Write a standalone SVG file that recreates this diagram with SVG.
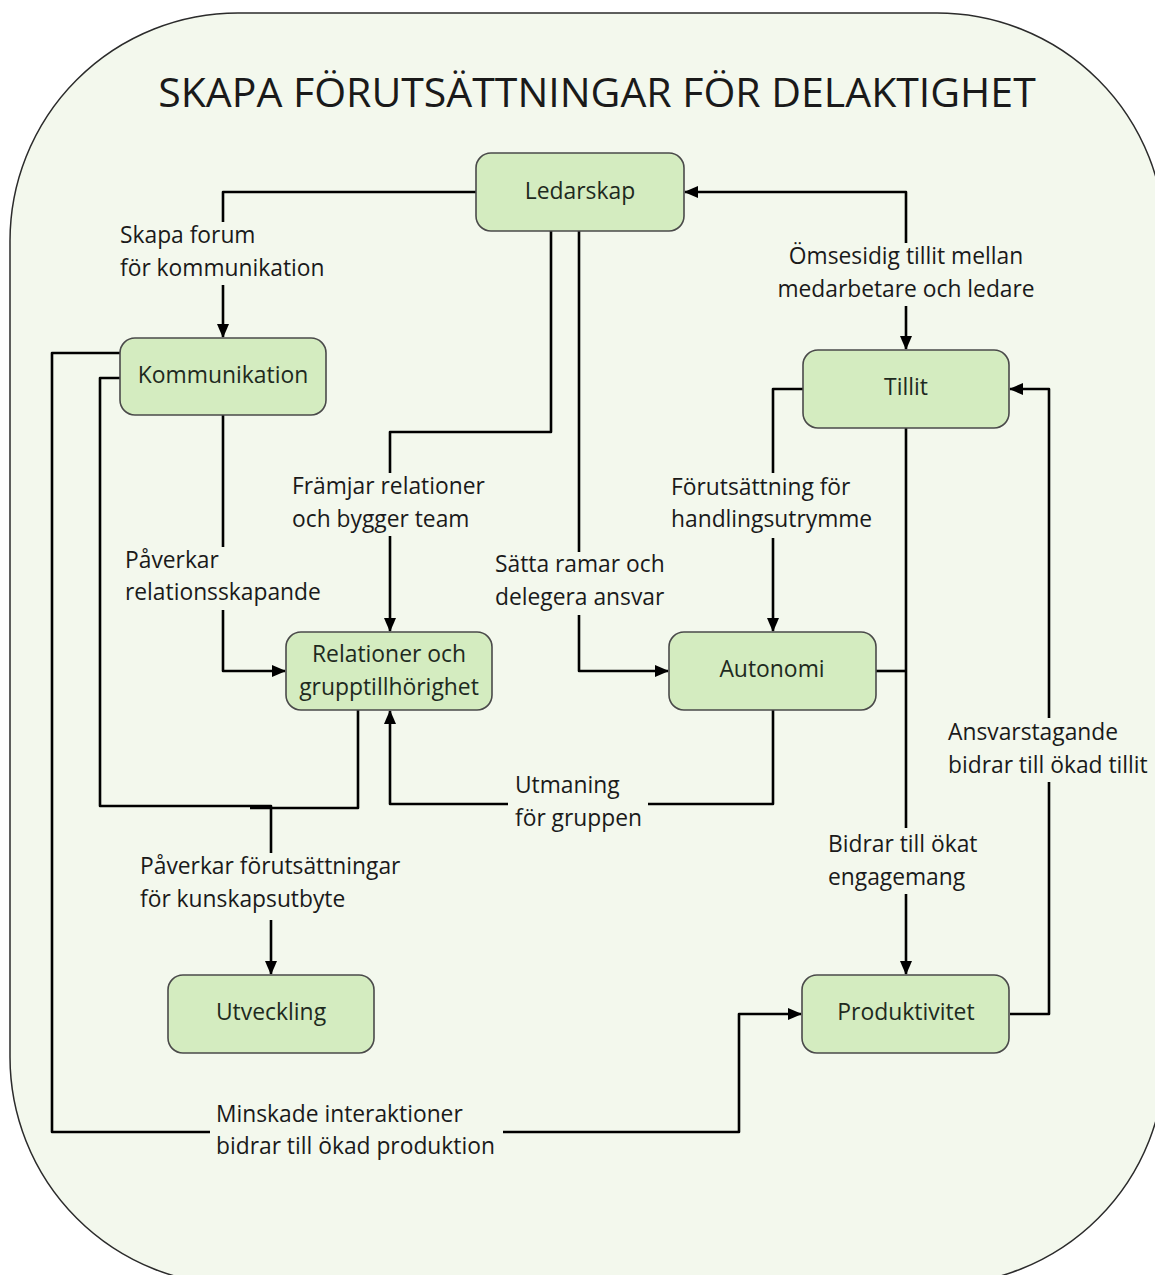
<svg xmlns="http://www.w3.org/2000/svg" width="1155" height="1275" viewBox="0 0 1155 1275">
<style>
.bg{fill:#f3f8ed;stroke:#2b2b2b;stroke-width:1.5}
.node rect{fill:#d4ecc0;stroke:#4a4a4a;stroke-width:1.6}
.node text{font-family:"Open Sans","Noto Sans",sans-serif;font-size:22.9px;fill:#1e2a1e;text-anchor:middle}
.lbl{font-family:"Open Sans","Noto Sans",sans-serif;font-size:22.8px;fill:#1a1a1a}
.title{font-family:"Open Sans","Noto Sans",sans-serif;font-size:41px;fill:#1a1a1a;text-anchor:middle}
.c{fill:none;stroke:#000;stroke-width:2.6;stroke-linejoin:round;stroke-linecap:butt}
.a{marker-end:url(#arr)}
</style>
<defs>
<marker id="arr" markerUnits="userSpaceOnUse" markerWidth="14" markerHeight="12" refX="13" refY="6" orient="auto">
<path d="M0,0 L14,6 L0,12 Z" fill="#000"/>
</marker>
</defs>
<rect x="0" y="0" width="1155" height="1275" fill="#ffffff"/>
<rect class="bg" x="10" y="13" width="1155" height="1272" rx="228" ry="228"/>
<text class="title" x="597" y="107">SKAPA FÖRUTSÄTTNINGAR FÖR DELAKTIGHET</text>

<g id="connectors">
<!-- Ledarskap -> Kommunikation -->
<path class="c" d="M476,192 H223 V222"/>
<path class="c a" d="M223,285 V337"/>
<!-- Ledarskap -> Relationer -->
<path class="c" d="M551,231 V432 H390 V473"/>
<path class="c a" d="M390,536 V631"/>
<!-- Ledarskap -> Autonomi -->
<path class="c" d="M579,231 V552"/>
<path class="c a" d="M579,615 V671 H668"/>
<!-- Tillit <-> Ledarskap -->
<path class="c a" d="M906,243 V192 H685"/>
<path class="c a" d="M906,306 V349"/>
<!-- Tillit -> Autonomi -->
<path class="c" d="M803,389 H773 V473"/>
<path class="c a" d="M773,538 V631"/>
<!-- Tillit -> Produktivitet, Autonomi joins -->
<path class="c" d="M906,428 V828"/>
<path class="c" d="M876,671 H906"/>
<path class="c a" d="M906,894 V974"/>
<!-- Produktivitet -> Tillit -->
<path class="c" d="M1010,1014 H1049 V782"/>
<path class="c a" d="M1049,718 V389 H1010"/>
<!-- Autonomi -> Relationer -->
<path class="c" d="M773,710 V804 H648"/>
<path class="c a" d="M508,804 H390 V711"/>
<!-- Kommunikation -> Relationer -->
<path class="c" d="M223,415 V547"/>
<path class="c a" d="M223,610 V671 H285"/>
<!-- Kommunikation / Relationer -> Utveckling -->
<path class="c" d="M120,378 H100 V806 H271 V853"/>
<path class="c" d="M358,710 V808 H250"/>
<path class="c a" d="M271,920 V974"/>
<!-- Kommunikation -> Produktivitet -->
<path class="c" d="M120,353 H52 V1132 H210"/>
<path class="c a" d="M503,1132 H739 V1014 H801"/>
</g>

<g id="labels">
<text class="lbl" x="120" y="243">Skapa forum</text>
<text class="lbl" x="120" y="276">för kommunikation</text>
<text class="lbl" x="292" y="494">Främjar relationer</text>
<text class="lbl" x="292" y="527">och bygger team</text>
<text class="lbl" x="125" y="568">Påverkar</text>
<text class="lbl" x="125" y="600">relationsskapande</text>
<text class="lbl" x="495" y="572">Sätta ramar och</text>
<text class="lbl" x="495" y="605">delegera ansvar</text>
<text class="lbl" x="671" y="495">Förutsättning för</text>
<text class="lbl" x="671" y="527">handlingsutrymme</text>
<text class="lbl" x="906" y="264" text-anchor="middle">Ömsesidig tillit mellan</text>
<text class="lbl" x="906" y="297" text-anchor="middle">medarbetare och ledare</text>
<text class="lbl" x="948" y="740">Ansvarstagande</text>
<text class="lbl" x="948" y="773">bidrar till ökad tillit</text>
<text class="lbl" x="828" y="852">Bidrar till ökat</text>
<text class="lbl" x="828" y="885">engagemang</text>
<text class="lbl" x="515" y="793">Utmaning</text>
<text class="lbl" x="515" y="826">för gruppen</text>
<text class="lbl" x="140" y="874">Påverkar förutsättningar</text>
<text class="lbl" x="140" y="907">för kunskapsutbyte</text>
<text class="lbl" x="216" y="1122">Minskade interaktioner</text>
<text class="lbl" x="216" y="1154">bidrar till ökad produktion</text>
</g>

<g id="ledarskap" class="node"><rect x="476" y="153" width="208" height="78" rx="15"/><text x="580" y="199">Ledarskap</text></g>
<g id="kommunikation" class="node"><rect x="120" y="338" width="206" height="77" rx="15"/><text x="223" y="383">Kommunikation</text></g>
<g id="tillit" class="node"><rect x="803" y="350" width="206" height="78" rx="15"/><text x="906" y="395">Tillit</text></g>
<g id="relationer" class="node"><rect x="286" y="632" width="206" height="78" rx="15"/><text x="389" y="662">Relationer och</text><text x="389" y="695">grupptillhörighet</text></g>
<g id="autonomi" class="node"><rect x="669" y="632" width="207" height="78" rx="15"/><text x="772" y="677">Autonomi</text></g>
<g id="utveckling" class="node"><rect x="168" y="975" width="206" height="78" rx="15"/><text x="271" y="1020">Utveckling</text></g>
<g id="produktivitet" class="node"><rect x="802" y="975" width="207" height="78" rx="15"/><text x="906" y="1020">Produktivitet</text></g>
</svg>
